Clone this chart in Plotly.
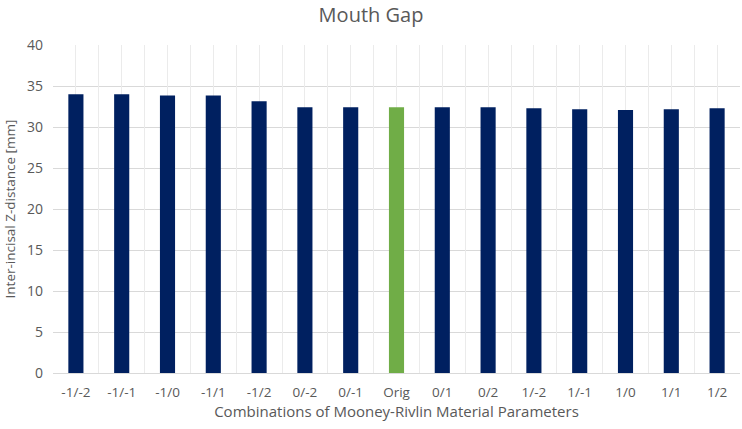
import plotly.graph_objects as go

categories = ["-1/-2", "-1/-1", "-1/0", "-1/1", "-1/2", "0/-2", "0/-1", "Orig",
              "0/1", "0/2", "1/-2", "1/-1", "1/0", "1/1", "1/2"]
gap_mm = [34.0, 34.0, 33.85, 33.85, 33.15, 32.42, 32.42, 32.42,
          32.42, 32.42, 32.28, 32.15, 32.07, 32.15, 32.28]
bar_colors = ["#70AD47" if c == "Orig" else "#002060" for c in categories]

FONT = "Open Sans, DejaVu Sans, sans-serif"
GREY = "#595959"

fig = go.Figure()
fig.add_trace(go.Bar(
    x=categories, y=gap_mm,
    marker=dict(color=bar_colors, line=dict(width=0)),
    width=0.33,
    xaxis="x", yaxis="y",
    hoverinfo="x+y",
))
# invisible helper trace so the overlay axis (half-category grid) is drawn
fig.add_trace(go.Scatter(
    x=[-0.5, len(categories) - 0.5], y=[0, 0],
    mode="markers", marker=dict(opacity=0),
    xaxis="x2", yaxis="y", showlegend=False, hoverinfo="skip",
))

fig.update_layout(
    width=742, height=429,
    margin=dict(l=53, r=2, t=45, b=56),
    paper_bgcolor="white", plot_bgcolor="white",
    showlegend=False,
    font=dict(family=FONT, color=GREY, size=13),
    title=dict(text="Mouth Gap", x=0.5, xanchor="center", y=0.965, yanchor="middle",
               font=dict(size=20, color=GREY, family=FONT)),
    xaxis=dict(
        type="category", showgrid=False,
        showline=True, linecolor="#D9D9D9", linewidth=1,
        ticks="", tickfont=dict(size=13.5, color=GREY), ticklabelstandoff=7,
        title=dict(text="Combinations of Mooney-Rivlin Material Parameters",
                   font=dict(size=15, color=GREY), standoff=1),
        range=[-0.5, len(categories) - 0.5],
    ),
    xaxis2=dict(
        overlaying="x", type="linear", range=[-0.5, len(categories) - 0.5],
        dtick=0.5, tick0=-0.5, showgrid=True, gridcolor="#EBEBEB", gridwidth=1,
        showticklabels=False, ticks="", zeroline=False, showline=False,
    ),
    yaxis=dict(
        range=[0, 40], dtick=5, showgrid=True, gridcolor="#D9D9D9", gridwidth=1,
        zeroline=False, ticks="", tickfont=dict(size=14, color=GREY),
        ticklabelstandoff=9,
        title=dict(text="Inter-incisal Z-distance [mm]",
                   font=dict(size=13.5, color=GREY), standoff=8),
    ),
    bargap=0.67,
)

# drop the default 8px page margin so the figure sits at the window's corner
fig.write_html("out.html", config={"displayModeBar": False},
               post_script="document.body.style.margin='0';")
